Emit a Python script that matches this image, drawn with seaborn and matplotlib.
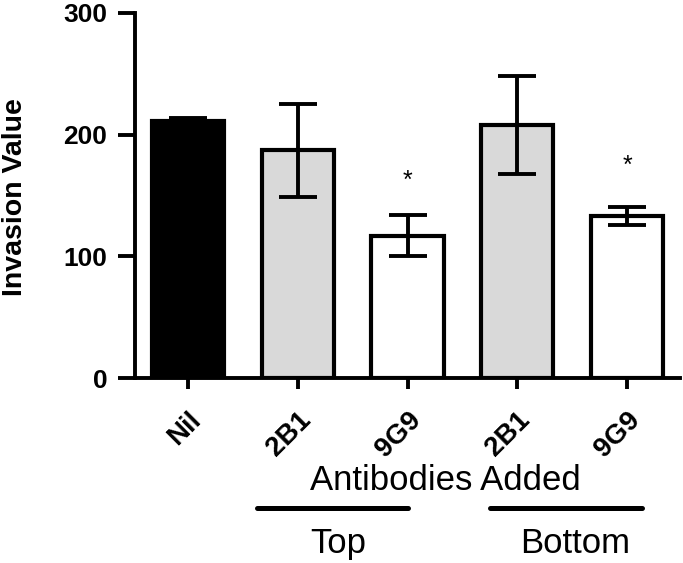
import matplotlib
matplotlib.use("Agg")
import matplotlib.pyplot as plt
import matplotlib.transforms as mtransforms
import seaborn as sns
import pandas as pd

# ---- data ----
categories = ["Nil", "2B1 (Top)", "9G9 (Top)", "2B1 (Bottom)", "9G9 (Bottom)"]
tick_labels = ["Nil", "2B1", "9G9", "2B1", "9G9"]
values = [211, 187, 117, 208, 133]
errors = [3, 38, 17, 40, 7.5]
colors = ["#000000", "#d9d9d9", "#ffffff", "#d9d9d9", "#ffffff"]
star_index = [2, 4]
star_y = [162, 174]
y_ticks = [0, 100, 200, 300]
group_names = ["Top", "Bottom"]

sns.set_theme(style="ticks")
plt.rcParams["font.family"] = ["Liberation Sans", "DejaVu Sans"]
plt.rcParams["text.color"] = "black"
plt.rcParams["axes.labelcolor"] = "black"
plt.rcParams["xtick.color"] = "black"
plt.rcParams["ytick.color"] = "black"

fig = plt.figure(figsize=(6.83, 5.63), dpi=100)
ax = fig.add_axes([135 / 683, 1 - 378 / 563, 545 / 683, 365 / 563])

df = pd.DataFrame({"group": categories, "value": values})
sns.barplot(data=df, x="group", y="value", hue="group", order=categories,
            hue_order=categories, palette=colors, legend=False,
            edgecolor="black", linewidth=3, width=0.66, errorbar=None,
            saturation=1, ax=ax)

ax.errorbar(x=list(range(len(values))), y=values, yerr=errors, fmt="none",
            ecolor="black", elinewidth=2.8, capsize=14, capthick=2.8, zorder=5)

for i, sy in zip(star_index, star_y):
    ax.text(i, sy, "*", ha="center", va="center", fontsize=18, color="black")

ax.set_xlim(-0.483, 4.483)
ax.set_ylim(0, 300)
ax.set_yticks(y_ticks)
ax.set_yticklabels([str(t) for t in y_ticks], fontsize=19, fontweight="bold")
ax.set_xticks(range(len(tick_labels)))
ax.set_xticklabels(tick_labels, rotation=45, ha="right", va="top",
                   rotation_mode="anchor", fontsize=20, fontweight="bold")
shift = mtransforms.ScaledTranslation(-6 / 100, 0, fig.dpi_scale_trans)
for lab in ax.get_xticklabels():
    lab.set_transform(lab.get_transform() + shift)
ax.set_xlabel("")
ax.set_ylabel("Invasion Value", fontsize=20.5, fontweight="bold")
ax.yaxis.set_label_coords(-0.197, 0.496)

sns.despine(ax=ax)
for s in ["left", "bottom"]:
    ax.spines[s].set_linewidth(2.8)
    ax.spines[s].set_color("black")
ax.tick_params(axis="y", length=12, width=2.8, pad=8)
ax.tick_params(axis="x", length=8, width=2.8, pad=13)

tr = ax.get_xaxis_transform()
ax.text(2.346, -0.3068, "Antibodies Added", transform=tr, ha="center",
        va="baseline", fontsize=25)
for (x0, x1), name, xc in zip([(0.629, 2.005), (2.752, 4.137)], group_names,
                              [1.367, 3.526]):
    ax.plot([x0, x1], [-0.356, -0.356], transform=tr, clip_on=False,
            color="black", lw=3.6, solid_capstyle="round")
    ax.text(xc, -0.4795, name, transform=tr, ha="center", va="baseline",
            fontsize=25)

fig.savefig("out.png", dpi=100)
